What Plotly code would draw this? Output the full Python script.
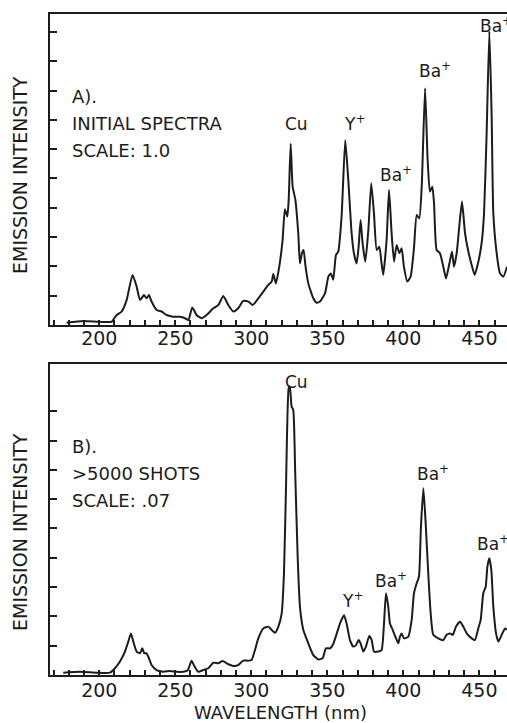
import plotly.graph_objects as go

# ---------------- data ----------------
# Panel A: initial spectra (scale 1.0)
wl_a = [178.5, 189.5, 200.4, 208.1, 211.4, 214.7, 218.0, 221.9, 224.6, 226.8,
        229.4, 231.1, 232.7, 234.4, 237.7, 241.0, 244.3, 248.7, 253.1, 256.4,
        258.6, 261.2, 264.0, 267.3, 270.6, 275.0, 278.3, 281.6, 284.9, 288.2,
        291.4, 294.7, 298.0, 300.9, 304.6, 307.9, 311.2, 313.4, 314.5, 316.2,
        318.4, 320.6, 322.1, 323.7, 324.6, 325.9, 327.2, 329.0, 330.9, 332.0,
        333.3, 334.4, 335.7, 337.5, 340.8, 343.0, 345.2, 348.5, 350.7, 352.4,
        353.9, 355.7, 357.2, 359.4, 361.8, 363.8, 366.0, 367.5, 369.3, 370.6,
        371.9, 373.2, 375.0, 377.0, 378.9, 380.7, 382.5, 384.2, 385.7, 386.8,
        389.0, 390.6, 392.3, 393.9, 395.6, 397.4, 398.9, 400.4, 402.6, 404.8,
        407.0, 408.8, 410.5, 412.1, 414.3, 416.0, 417.5, 419.1, 420.2, 421.9,
        424.1, 426.3, 428.1, 430.3, 432.0, 433.3, 435.1, 436.8, 438.6, 440.6,
        442.8, 444.7, 446.9, 449.1, 451.5, 453.1, 454.8, 456.6, 458.1, 459.2,
        461.4, 463.6, 465.8, 468.2]
int_a = [0.08, 0.14, 0.11, 0.11, 0.34, 0.46, 0.85, 1.71, 1.31, 0.85,
         1.02, 0.91, 1.02, 0.80, 0.51, 0.46, 0.34, 0.28, 0.28, 0.23,
         0.17, 0.60, 0.34, 0.23, 0.34, 0.57, 0.68, 0.99, 0.68, 0.46,
         0.57, 0.82, 0.80, 0.68, 0.91, 1.14, 1.37, 1.48, 1.74, 1.42,
         1.99, 2.90, 3.95, 3.70, 4.27, 6.18, 4.72, 4.27, 3.13, 2.10,
         2.45, 2.56, 1.99, 1.42, 0.91, 0.76, 0.80, 1.08, 1.65, 1.76,
         1.54, 2.39, 2.50, 3.70, 6.31, 4.95, 3.13, 2.45, 2.10, 2.67,
         3.58, 2.79, 2.16, 3.24, 4.84, 3.81, 2.56, 2.67, 2.10, 1.71,
         2.90, 4.61, 3.13, 2.16, 2.73, 2.45, 2.62, 1.99, 1.48, 1.65,
         2.62, 3.75, 3.64, 4.72, 8.08, 5.63, 4.55, 4.72, 4.15, 2.56,
         2.45, 1.99, 1.59, 2.10, 2.50, 1.99, 2.45, 3.36, 4.21, 3.13,
         2.50, 2.10, 1.71, 2.10, 2.79, 3.81, 6.54, 10.01, 7.11, 3.81,
         2.45, 1.76, 1.65, 1.99]

# Panel B: after >5000 shots (scale .07)
wl_b = [176.3, 187.3, 198.2, 207.0, 210.3, 213.6, 216.9, 219.1, 220.8, 222.4,
        224.6, 226.8, 228.3, 229.6, 231.1, 232.7, 234.4, 237.7, 242.1, 246.5,
        250.9, 255.3, 258.1, 260.7, 262.5, 265.1, 268.4, 271.7, 275.0, 278.3,
        281.1, 283.8, 288.2, 291.4, 294.7, 298.0, 300.2, 302.4, 304.6, 307.9,
        311.2, 313.4, 315.6, 317.8, 320.0, 321.5, 322.8, 324.6, 325.4, 326.5,
        327.6, 328.9, 330.5, 332.0, 334.2, 337.5, 340.8, 344.1, 346.9, 349.1,
        351.8, 353.9, 356.6, 358.8, 361.0, 362.7, 364.9, 367.1, 368.9, 370.6,
        371.9, 373.7, 375.4, 377.6, 379.2, 380.7, 383.6, 385.7, 387.3, 388.6,
        390.1, 391.2, 393.0, 395.2, 396.7, 397.8, 398.9, 400.4, 403.3, 405.5,
        407.0, 408.8, 410.3, 411.6, 413.2, 414.7, 416.4, 418.0, 419.7, 423.0,
        426.3, 428.5, 430.7, 432.5, 434.6, 437.3, 439.5, 441.7, 445.0, 447.1,
        449.3, 450.9, 452.6, 454.2, 455.3, 456.6, 457.9, 459.2, 461.0, 462.5,
        464.7, 466.9, 468.2]
int_b = [0.08, 0.11, 0.08, 0.08, 0.23, 0.46, 0.80, 1.14, 1.42, 1.14,
         0.80, 0.74, 0.91, 0.74, 0.74, 0.57, 0.34, 0.17, 0.11, 0.14,
         0.11, 0.11, 0.15, 0.49, 0.31, 0.11, 0.17, 0.23, 0.42, 0.40,
         0.48, 0.40, 0.31, 0.34, 0.49, 0.49, 0.51, 0.85, 1.25, 1.59,
         1.65, 1.54, 1.44, 1.65, 2.10, 3.47, 6.31, 9.78, 9.84, 9.16,
         9.04, 6.88, 4.04, 2.33, 1.54, 1.08, 0.68, 0.53, 0.57, 0.91,
         0.91, 1.06, 1.48, 1.82, 2.04, 1.76, 1.19, 0.97, 1.02, 1.19,
         1.08, 0.80, 0.97, 1.33, 1.19, 0.80, 0.80, 0.85, 1.76, 2.79,
         2.33, 1.76, 1.54, 1.25, 1.08, 1.31, 1.42, 1.25, 1.31, 1.88,
         2.79, 3.13, 3.36, 5.06, 6.37, 5.18, 3.47, 2.10, 1.37, 1.25,
         1.19, 1.37, 1.42, 1.37, 1.65, 1.82, 1.65, 1.42, 1.25, 1.19,
         1.59, 1.88, 2.79, 3.01, 3.70, 3.98, 3.58, 2.33, 1.42, 1.14,
         1.37, 1.59, 1.54]

major_ticks = [200, 250, 300, 350, 400, 450]
major_text = ["200", "250", "300", "350", "400", "450"]

# peak labels: (text, left wavelength, bottom intensity)
labels_a = [("Cu", 321.0, 6.45), ("Y<sup>+</sup>", 359.5, 6.45),
            ("Ba<sup>+</sup>", 383.6, 4.70), ("Ba<sup>+</sup>", 409.0, 8.25),
            ("Ba<sup>+</sup>", 449.1, 9.80)]
labels_b = [("Cu", 320.8, 9.60), ("Y<sup>+</sup>", 358.4, 2.10),
            ("Ba<sup>+</sup>", 380.0, 2.80), ("Ba<sup>+</sup>", 407.7, 6.45),
            ("Ba<sup>+</sup>", 447.2, 4.05)]
notes_a = ["A).", "INITIAL SPECTRA", "SCALE: 1.0"]
notes_b = ["B).", ">5000 SHOTS", "SCALE: .07"]
note_y = [7.79, 6.88, 5.97]

INK = "#1c1c1c"
FONT = "DejaVu Sans"
W, H = 507, 723

fig = go.Figure()
fig.add_trace(go.Scatter(x=wl_a, y=int_a, mode="lines", xaxis="x", yaxis="y",
                         line=dict(color=INK, width=2, shape="spline", smoothing=0.5),
                         showlegend=False, hoverinfo="skip"))
fig.add_trace(go.Scatter(x=wl_b, y=int_b, mode="lines", xaxis="x2", yaxis="y2",
                         line=dict(color=INK, width=2, shape="spline", smoothing=0.5),
                         showlegend=False, hoverinfo="skip"))


def xaxis(anchor, standoff):
    return dict(range=[167.6, 468.2], domain=[50 / W, 1], anchor=anchor,
                tickmode="array", tickvals=major_ticks, ticktext=major_text,
                ticks="inside", ticklen=5, tickwidth=1.5, tickcolor=INK,
                minor=dict(ticks="inside", ticklen=5, tickwidth=1.5, tickcolor=INK,
                           tickmode="linear", tick0=0, dtick=10, showgrid=False),
                showline=True, linewidth=2, linecolor=INK, mirror=True,
                showgrid=False, zeroline=False, ticklabelstandoff=standoff,
                tickfont=dict(family=FONT, size=19, color=INK))


def yaxis(anchor, dom, nt):
    return dict(range=[0, 10.61], domain=dom, anchor=anchor,
                tickmode="array", tickvals=list(range(1, nt + 1)),
                showticklabels=False, ticks="inside", ticklen=7, tickwidth=1.5,
                tickcolor=INK, showline=True, linewidth=2, linecolor=INK,
                showgrid=False, zeroline=False)


annotations = []
for ref, labs, notes in (("", labels_a, notes_a), ("2", labels_b, notes_b)):
    for t, x, y in labs:
        annotations.append(dict(text=t, x=x, y=y, xref="x" + ref, yref="y" + ref,
                                xanchor="left", yanchor="bottom", showarrow=False,
                                font=dict(family=FONT, size=17, color=INK)))
    for t, y in zip(notes, note_y):
        annotations.append(dict(text=t, x=180.5, y=y, xref="x" + ref, yref="y" + ref,
                                xanchor="left", yanchor="middle", showarrow=False,
                                font=dict(family=FONT, size=18, color=INK)))

for yc in (175, 532):
    annotations.append(dict(text="EMISSION INTENSITY", x=20 / W, y=1 - yc / H,
                            xref="paper", yref="paper", textangle=-90,
                            xanchor="center", yanchor="middle", showarrow=False,
                            font=dict(family=FONT, size=19, color=INK)))
annotations.append(dict(text="WAVELENGTH (nm)", x=280 / W, y=1 - 712 / H,
                        xref="paper", yref="paper", xanchor="center",
                        yanchor="middle", showarrow=False,
                        font=dict(family=FONT, size=18, color=INK)))

fig.update_layout(
    width=W, height=H, margin=dict(l=0, r=0, t=0, b=0),
    paper_bgcolor="white", plot_bgcolor="white",
    xaxis=xaxis("y", -5), yaxis=yaxis("x", [1 - 325 / H, 1 - 14 / H], 10),
    xaxis2=xaxis("y2", -3), yaxis2=yaxis("x2", [1 - 675 / H, 1 - 364 / H], 9),
    annotations=annotations,
)

fig.write_html("out.html")
